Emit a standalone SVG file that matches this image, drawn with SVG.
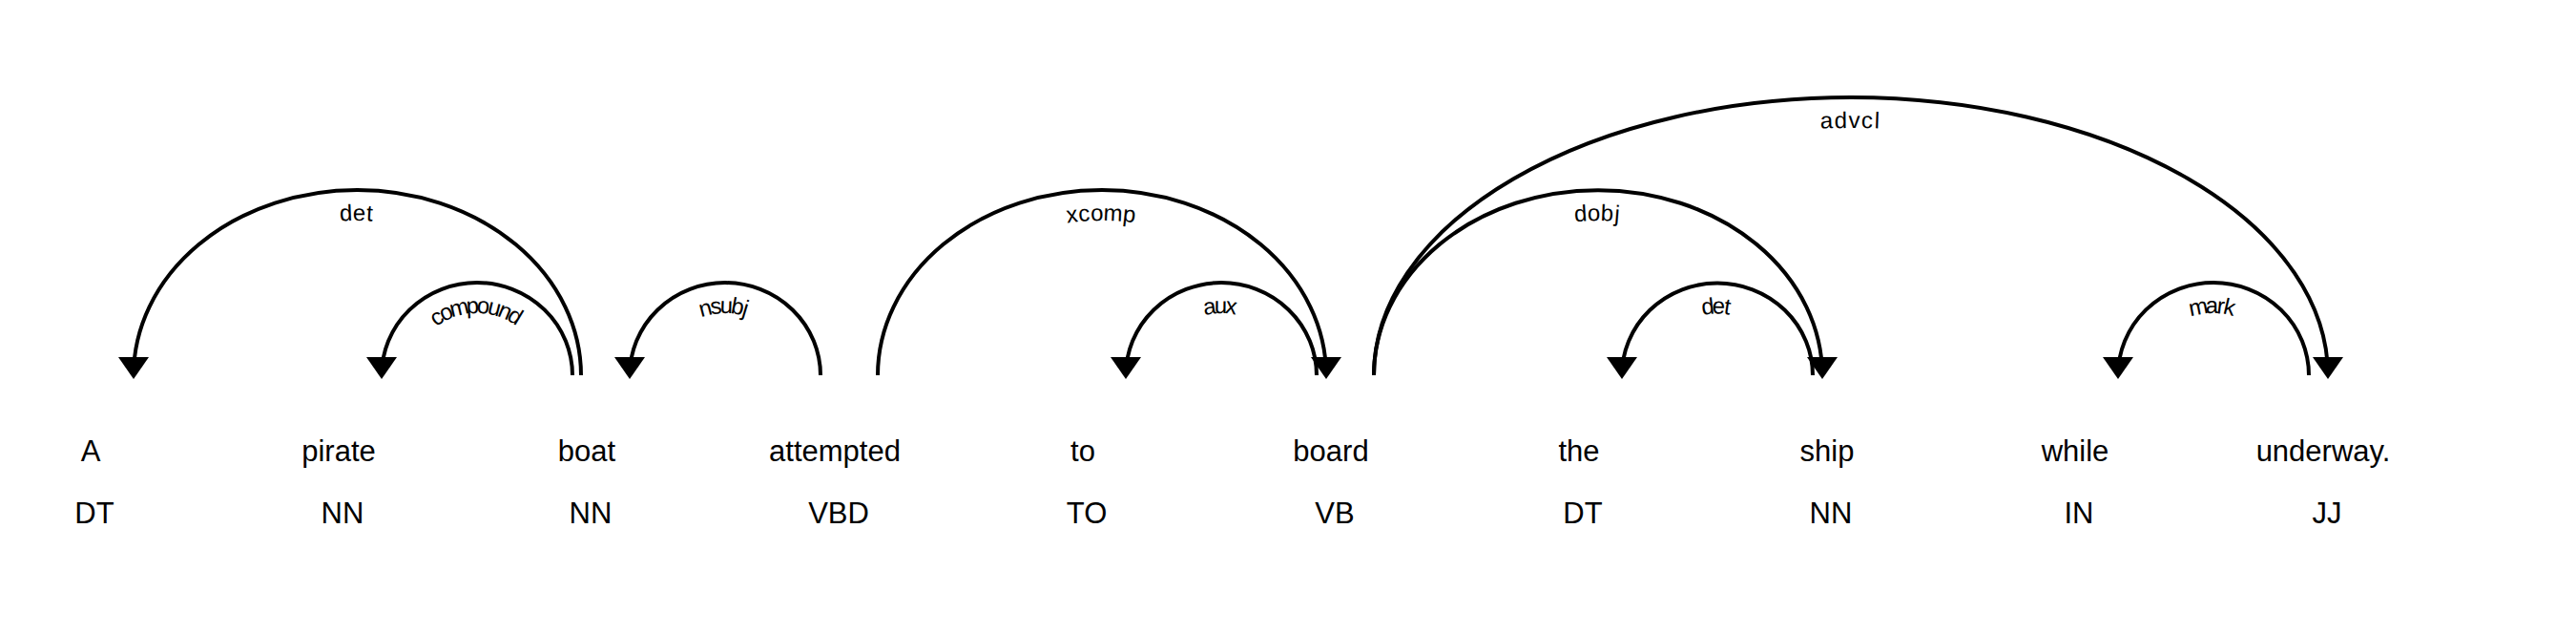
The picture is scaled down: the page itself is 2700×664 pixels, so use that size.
<svg xmlns="http://www.w3.org/2000/svg" xmlns:xlink="http://www.w3.org/1999/xlink" width="2700" height="664" viewBox="0 0 2700 664">
<style>
  .word { font-family: "Liberation Sans", Arial, sans-serif; font-size: 31px; fill: #000; text-anchor: middle; }
  .tag { font-family: "Liberation Sans", Arial, sans-serif; font-size: 31px; fill: #000; text-anchor: middle; }
  .arc { fill: none; stroke: #000; stroke-width: 4; }
  .head { fill: #000; stroke: none; }
  .lbl { font-family: "Liberation Sans", Arial, sans-serif; font-size: 24px; letter-spacing: 2px; fill: #000; }
</style>
<rect x="0" y="0" width="2700" height="664" fill="#fff"/>
<defs>
  <path id="a1" d="M140,393 A234.5,194 0 0 1 609,393"/>
  <path id="a2" d="M400,393 A100,97 0 0 1 600,393"/>
  <path id="a3" d="M660,393 A100,97 0 0 1 860,393"/>
  <path id="a4" d="M920,393 A235,194 0 0 1 1390,393"/>
  <path id="a5" d="M1180,393 A100,97 0 0 1 1380,393"/>
  <path id="a6" d="M1440,393 A235,194 0 0 1 1910,393"/>
  <path id="a7" d="M1440,393 A500,291 0 0 1 2440,393"/>
  <path id="a8" d="M1700,393 A100,96.5 0 0 1 1900,393"/>
  <path id="a9" d="M2220,393 A100,97 0 0 1 2420,393"/>
</defs>
<g id="connectors">
  <use xlink:href="#a1" href="#a1" class="arc"/>
  <use xlink:href="#a2" href="#a2" class="arc"/>
  <use xlink:href="#a3" href="#a3" class="arc"/>
  <use xlink:href="#a4" href="#a4" class="arc"/>
  <use xlink:href="#a5" href="#a5" class="arc"/>
  <use xlink:href="#a6" href="#a6" class="arc"/>
  <use xlink:href="#a7" href="#a7" class="arc"/>
  <use xlink:href="#a8" href="#a8" class="arc"/>
  <use xlink:href="#a9" href="#a9" class="arc"/>
  <polygon class="head" points="124,374 156,374 140,397"/>
  <polygon class="head" points="384,374 416,374 400,397"/>
  <polygon class="head" points="644,374 676,374 660,397"/>
  <polygon class="head" points="1374,374 1406,374 1390,397"/>
  <polygon class="head" points="1164,374 1196,374 1180,397"/>
  <polygon class="head" points="1894,374 1926,374 1910,397"/>
  <polygon class="head" points="2424,374 2456,374 2440,397"/>
  <polygon class="head" points="1684,374 1716,374 1700,397"/>
  <polygon class="head" points="2204,374 2236,374 2220,397"/>
  <text class="lbl" dy="32"><textPath xlink:href="#a1" href="#a1" startOffset="50%" text-anchor="middle">det</textPath></text>
  <text class="lbl" dy="32"><textPath xlink:href="#a2" href="#a2" startOffset="50%" text-anchor="middle">compound</textPath></text>
  <text class="lbl" dy="32"><textPath xlink:href="#a3" href="#a3" startOffset="50%" text-anchor="middle">nsubj</textPath></text>
  <text class="lbl" dy="32"><textPath xlink:href="#a4" href="#a4" startOffset="50%" text-anchor="middle">xcomp</textPath></text>
  <text class="lbl" dy="32"><textPath xlink:href="#a5" href="#a5" startOffset="50%" text-anchor="middle">aux</textPath></text>
  <text class="lbl" dy="32"><textPath xlink:href="#a6" href="#a6" startOffset="50%" text-anchor="middle">dobj</textPath></text>
  <text class="lbl" dy="32"><textPath xlink:href="#a7" href="#a7" startOffset="50%" text-anchor="middle">advcl</textPath></text>
  <text class="lbl" dy="32"><textPath xlink:href="#a8" href="#a8" startOffset="50%" text-anchor="middle">det</textPath></text>
  <text class="lbl" dy="32"><textPath xlink:href="#a9" href="#a9" startOffset="50%" text-anchor="middle">mark</textPath></text>
</g>
<g id="w0"><text class="word" x="95" y="483">A</text><text class="tag" x="99" y="548">DT</text></g>
<g id="w1"><text class="word" x="355" y="483">pirate</text><text class="tag" x="359" y="548">NN</text></g>
<g id="w2"><text class="word" x="615" y="483">boat</text><text class="tag" x="619" y="548">NN</text></g>
<g id="w3"><text class="word" x="875" y="483">attempted</text><text class="tag" x="879" y="548">VBD</text></g>
<g id="w4"><text class="word" x="1135" y="483">to</text><text class="tag" x="1139" y="548">TO</text></g>
<g id="w5"><text class="word" x="1395" y="483">board</text><text class="tag" x="1399" y="548">VB</text></g>
<g id="w6"><text class="word" x="1655" y="483">the</text><text class="tag" x="1659" y="548">DT</text></g>
<g id="w7"><text class="word" x="1915" y="483">ship</text><text class="tag" x="1919" y="548">NN</text></g>
<g id="w8"><text class="word" x="2175" y="483">while</text><text class="tag" x="2179" y="548">IN</text></g>
<g id="w9"><text class="word" x="2435" y="483">underway.</text><text class="tag" x="2439" y="548">JJ</text></g>
</svg>
